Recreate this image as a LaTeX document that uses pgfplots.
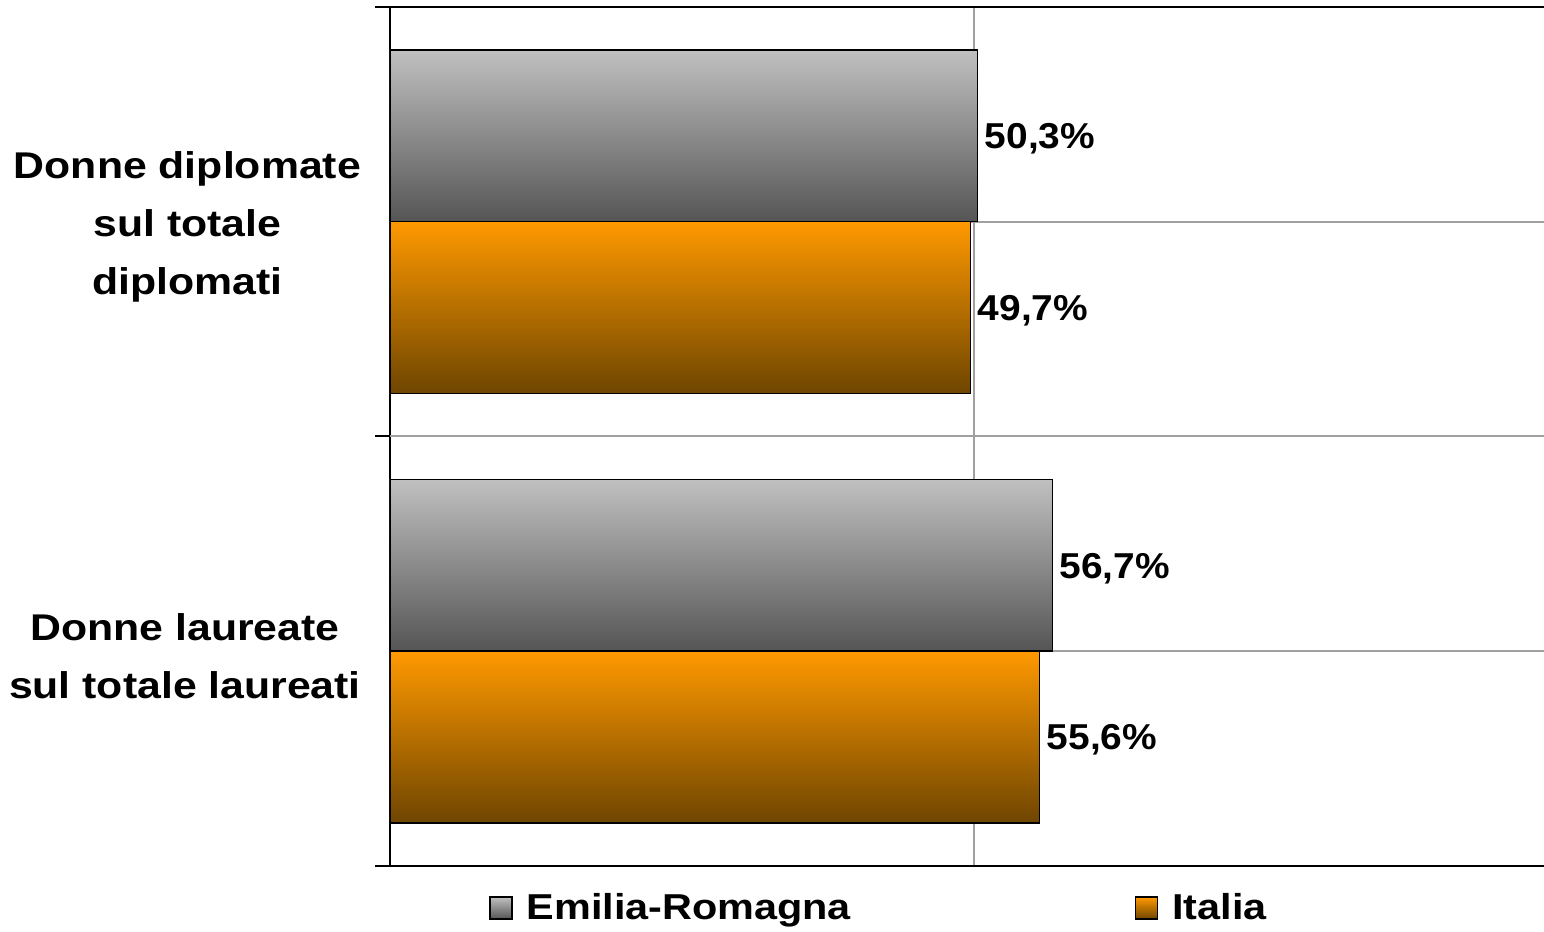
\documentclass[border=0pt]{standalone}
\usepackage{fontspec}
\setmainfont{Liberation Sans}
\newfontfamily\catfont{Liberation Sans}[FakeStretch=1.15]
\newfontfamily\valfont{Liberation Sans}[FakeStretch=1.08]
\newfontfamily\legfont{Liberation Sans}[FakeStretch=1.15]
\usepackage{pgfplots}
\pgfplotsset{compat=1.18}

\definecolor{grtop}{HTML}{C0C0C0}
\definecolor{grbot}{HTML}{555555}
\definecolor{ortop}{HTML}{FF9900}
\definecolor{orbot}{HTML}{6E4500}
\definecolor{gridgray}{HTML}{A0A0A0}

\pgfplotsset{
  erbar/.style={bar shift=0.2, draw=black, line width=0.75pt, top color=grtop, bottom color=grbot,
    legend image code/.code={\draw[draw=black, line width=0.75pt, top color=grtop, bottom color=grbot] (0pt,-5.5pt) rectangle (11pt,5.5pt); \path (16pt,0pt);}},
  itbar/.style={bar shift=-0.2, draw=black, line width=0.75pt, top color=ortop, bottom color=orbot,
    legend image code/.code={\draw[draw=black, line width=0.75pt, top color=ortop, bottom color=orbot] (0pt,-5.5pt) rectangle (11pt,5.5pt); \path (16pt,0pt);}},
}

\begin{document}
\begin{tikzpicture}
\begin{axis}[
  scale only axis, width=584pt, height=429.5pt,
  xmin=0, xmax=100, ymin=0, ymax=2,
  xbar, bar width=0.4,
  axis line style={black, line width=1pt},
  xtick={50}, xticklabels={}, x tick style={draw=none},
  xmajorgrids, grid style={gridgray, line width=1pt},
  ytick={0,1,2}, yticklabels={},
  tick align=outside, major tick length=7.5pt,
  y tick style={black, line width=1pt}, ytick pos=left,
  extra y ticks={0.5,1,1.5},
  extra y tick labels={{Donne laureate\\sul totale laureati},{},{Donne diplomate\\sul totale\\diplomati}},
  extra y tick style={ymajorgrids, major tick length=0pt,
    yticklabel style={align=center, font=\catfont\bfseries\fontsize{18.6}{29}\selectfont, xshift=-11pt, yshift=-2.5pt}},
  point meta=explicit symbolic,
  nodes near coords, nodes near coords align=horizontal,
  every node near coord/.append style={anchor=west, yshift=-1.5pt, font=\valfont\bfseries\fontsize{18}{20}\selectfont, black},
  legend columns=2,
  legend style={at={(0.4195,-0.049)}, anchor=center, draw=none, fill=none,
    font=\legfont\bfseries\fontsize{18}{20}\selectfont,
    /tikz/every even column/.append style={column sep=140pt},
    cells={anchor=west}},
]
\addplot[erbar] coordinates {(50.3,1.5) [50,3\%]};
\addlegendentry{Emilia-Romagna}
\addplot[itbar] coordinates {(49.7,1.5) [49,7\%]};
\addlegendentry{Italia}
\addplot[erbar, forget plot] coordinates {(56.7,0.5) [56,7\%]};
\addplot[itbar, forget plot] coordinates {(55.6,0.5) [55,6\%]};
\end{axis}
\pgfresetboundingbox
\path[use as bounding box] (-195pt,-33pt) rectangle (577pt,433pt);
\end{tikzpicture}
\end{document}
